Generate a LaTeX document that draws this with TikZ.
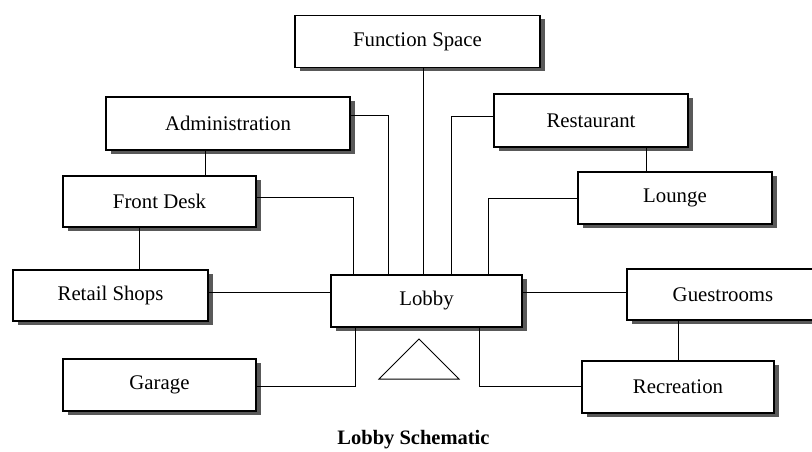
\documentclass[tikz,border=0pt]{standalone}
\usepackage{fontspec}
\setmainfont{Liberation Serif}
\usetikzlibrary{shadows}
\begin{document}
\begin{tikzpicture}[x=1pt,y=-1pt,
  box/.style={draw=black, line width=1.1pt, fill=white, inner sep=0pt,
    font=\fontsize{20.8}{24}\selectfont, minimum height=52pt,
    drop shadow={shadow xshift=4.5pt, shadow yshift=-4pt, fill=black!65, opacity=1}},
  link/.style={draw=black, line width=0.9pt}]
\clip (0,0) rectangle (812,452);
\fill[white] (0,0) rectangle (812,452);
% boxes
\node[box, minimum width=245pt, minimum height=52pt] (fs)  at (417.5,41.5) {Function Space};
\node[box, minimum width=244pt, minimum height=53pt] (adm) at (228,123.5) {Administration};
\node[box, minimum width=193pt, minimum height=51pt] (fd)  at (159.5,201.5) {Front Desk};
\node[box, minimum width=195pt, minimum height=51pt] (rs)  at (110.5,295.5) {Retail Shops};
\node[box, minimum width=193pt, minimum height=52pt] (gar) at (159.5,385) {Garage};
\node[box, minimum width=191pt, minimum height=52pt] (lob) at (426.5,301) {Lobby};
\node[box, minimum width=194pt, minimum height=53pt] (rest) at (591,120.5) {Restaurant};
\node[box, minimum width=194pt, minimum height=52pt] (lou) at (675,198) {Lounge};
\node[box, minimum width=192pt, minimum height=51pt] (gst) at (723,294.5) {Guestrooms};
\node[box, minimum width=192pt, minimum height=52pt] (rec) at (678,387) {Recreation};
% triangle
\coordinate (ta) at (419,339);
\coordinate (tl) at (379,379);
\coordinate (tr) at (459,379);
\draw[line width=1pt, line join=miter] (tl) -- (ta) -- (tr) -- cycle;
% connectors to lobby top
\draw[link] ([xshift=5.5pt]fs.south) -- ([xshift=5.5pt]fs.south |- lob.north);
\draw[link] ([yshift=8.5pt]adm.east) -| ([xshift=58pt]lob.north west);
\draw[link] ([yshift=4.5pt]fd.east) -| ([xshift=23pt]lob.north west);
\draw[link] ([yshift=4.5pt]rest.west) -| ([xshift=121pt]lob.north west);
\draw[link] (lou.west) -| ([xshift=158pt]lob.north west);
% vertical links between stacked boxes
\draw[link] ([xshift=-23pt]adm.south) -- ([xshift=-23pt]adm.south |- fd.north);
\draw[link] ([xshift=-20.5pt]fd.south) -- ([xshift=-20.5pt]fd.south |- rs.north);
\draw[link] ([xshift=55pt]rest.south) -- ([xshift=55pt]rest.south |- lou.north);
\draw[link] ([xshift=-45pt]gst.south) -- ([xshift=-45pt]gst.south |- rec.north);
% horizontal links
\draw[link] ([yshift=3.5pt]rs.east) -- ([yshift=3.5pt]rs.east -| lob.west);
\draw[link] ([yshift=9pt]lob.east) -- ([yshift=9pt]lob.east -| gst.west);
% lower links
\draw[link] ([yshift=-1pt]gar.east) -| ([xshift=25pt]lob.south west);
\draw[link] ([xshift=149pt]lob.south west) |- ([yshift=1pt]rec.west);
% caption
\node[font=\bfseries\fontsize{20.5}{24}\selectfont, inner sep=0pt] (cap) at (413.5,440) {Lobby Schematic};
\end{tikzpicture}
\end{document}
